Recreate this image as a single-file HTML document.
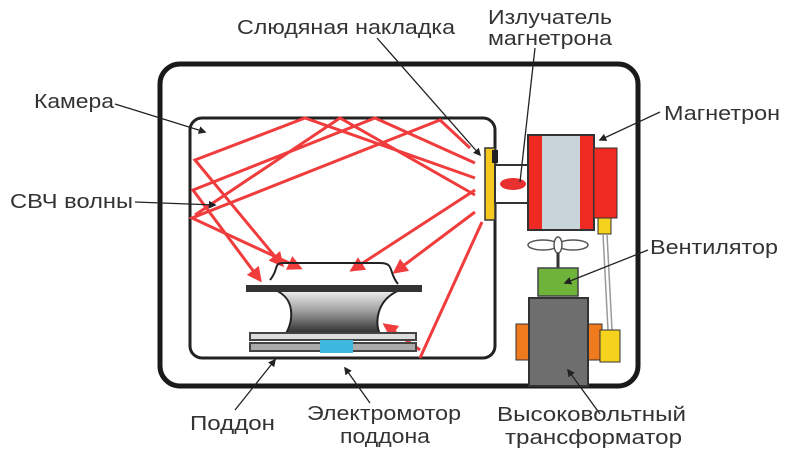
<!DOCTYPE html>
<html><head><meta charset="utf-8"><style>
html,body{margin:0;padding:0;background:#fff;width:800px;height:450px;overflow:hidden}
text{font-family:"Liberation Sans Narrow","Liberation Sans",sans-serif;fill:#333;font-size:20px}
</style></head><body>
<svg width="800" height="450" viewBox="0 0 800 450" xmlns="http://www.w3.org/2000/svg">
<defs>
<linearGradient id="bowl" x1="0" y1="0" x2="0" y2="1">
<stop offset="0" stop-color="#f2f2f2"/><stop offset="0.5" stop-color="#9a9a9a"/><stop offset="1" stop-color="#2a2a2a"/></linearGradient>
<marker id="ra" viewBox="0 0 10 10" refX="8" refY="5" markerWidth="5" markerHeight="5" orient="auto"><path d="M0,0L10,5L0,10z" fill="#f03c3c"/></marker>
<marker id="ka" viewBox="0 0 10 10" refX="8" refY="5" markerWidth="6" markerHeight="6" orient="auto"><path d="M0,0L10,5L0,10z" fill="#222"/></marker>
</defs>
<!-- outer case -->
<rect x="160" y="64" width="478" height="322" rx="20" fill="none" stroke="#1a1a1a" stroke-width="5"/>
<!-- chamber -->
<rect x="190" y="118" width="305" height="240" rx="12" fill="none" stroke="#222" stroke-width="3"/>
<!-- red rays -->
<g stroke="#f03c3c" stroke-width="3" fill="none">
<polyline points="475,178 305,118 195,160 282,265" marker-end="url(#ra)"/>
<polyline points="475,163 375,118 193,190 260,280" marker-end="url(#ra)"/>
<polyline points="470,148 440,120 192,218 300,268" marker-end="url(#ra)"/>
<polyline points="475,195 340,118 195,215"/>
<line x1="475" y1="190" x2="352" y2="270" marker-end="url(#ra)"/>
<line x1="475" y1="212" x2="395" y2="272" marker-end="url(#ra)"/>
<line x1="482" y1="222" x2="420" y2="358"/>
<line x1="420" y1="350" x2="385" y2="325" marker-end="url(#ra)"/>
</g>
<!-- dish -->
<path d="M270,280 C280,268 272,263 285,263 L380,263 C395,263 388,272 398,284" fill="none" stroke="#222" stroke-width="2"/>
<path d="M275,290 C300,300 290,330 285,334 L380,334 C375,325 375,300 400,290 Z" fill="url(#bowl)" stroke="#222" stroke-width="2"/>
<rect x="246" y="285" width="176" height="7" fill="#333"/>
<rect x="250" y="333" width="166" height="7" fill="#ddd" stroke="#444" stroke-width="2"/>
<rect x="250" y="343" width="166" height="8" fill="#aaa" stroke="#444" stroke-width="2"/>
<rect x="320" y="340" width="33" height="13" fill="#3fb8e0"/>
<!-- plate & waveguide -->
<rect x="485" y="148" width="10" height="72" fill="#f4c81e" stroke="#333" stroke-width="1.5"/>
<rect x="492" y="150" width="6" height="13" fill="#222"/>
<rect x="495" y="165" width="35" height="38" fill="#fff" stroke="#333" stroke-width="2"/>
<ellipse cx="513" cy="184" rx="13" ry="6" fill="#e83030"/>
<!-- magnetron -->
<rect x="528" y="135" width="66" height="95" fill="#c9d3da" stroke="#333" stroke-width="2"/>
<rect x="529" y="136" width="13" height="93" fill="#ee2a22"/>
<rect x="580" y="136" width="13" height="93" fill="#ee2a22"/>
<rect x="594" y="148" width="23" height="70" fill="#ee2a22" stroke="#333" stroke-width="1"/>
<rect x="598" y="218" width="13" height="16" fill="#f4d21e" stroke="#333" stroke-width="1"/>
<!-- fan -->
<ellipse cx="543" cy="245" rx="15" ry="5" fill="#fff" stroke="#555" stroke-width="1.5"/>
<ellipse cx="573" cy="245" rx="15" ry="5" fill="#fff" stroke="#555" stroke-width="1.5"/>
<ellipse cx="558" cy="245" rx="4" ry="8" fill="#fff" stroke="#555" stroke-width="1.5"/>
<line x1="558" y1="253" x2="558" y2="268" stroke="#333" stroke-width="3"/>
<rect x="538" y="268" width="40" height="28" fill="#6fb33a" stroke="#444" stroke-width="1.5"/>
<!-- wires -->
<path d="M603,234 L608,330 M607,234 L612,330" stroke="#999" stroke-width="1.5" fill="none"/>
<!-- transformer -->
<rect x="516" y="324" width="14" height="36" fill="#f07a1e" stroke="#333"/>
<rect x="588" y="324" width="14" height="36" fill="#f07a1e" stroke="#333"/>
<rect x="529" y="298" width="59" height="88" fill="#6e6e6e" stroke="#333" stroke-width="2"/>
<rect x="600" y="330" width="20" height="32" fill="#f4d21e" stroke="#333"/>
<!-- leader lines -->
<g stroke="#222" stroke-width="1.3" fill="none">
<line x1="115" y1="104" x2="205" y2="132" marker-end="url(#ka)"/>
<line x1="135" y1="202" x2="215" y2="205" marker-end="url(#ka)"/>
<line x1="377" y1="38" x2="480" y2="155" marker-end="url(#ka)"/>
<line x1="535" y1="48" x2="520" y2="182"/>
<line x1="660" y1="112" x2="600" y2="140" marker-end="url(#ka)"/>
<line x1="648" y1="250" x2="565" y2="283" marker-end="url(#ka)"/>
<line x1="235" y1="410" x2="275" y2="360" marker-end="url(#ka)"/>
<line x1="370" y1="403" x2="345" y2="368" marker-end="url(#ka)"/>
<line x1="600" y1="414" x2="568" y2="370" marker-end="url(#ka)"/>
</g>
<!-- labels -->
<text x="237" y="34" textLength="218" lengthAdjust="spacingAndGlyphs">Слюдяная накладка</text>
<text x="488" y="24" textLength="124" lengthAdjust="spacingAndGlyphs">Излучатель</text>
<text x="488" y="45" textLength="124" lengthAdjust="spacingAndGlyphs">магнетрона</text>
<text x="34" y="108" textLength="80" lengthAdjust="spacingAndGlyphs">Камера</text>
<text x="664" y="120" textLength="116" lengthAdjust="spacingAndGlyphs">Магнетрон</text>
<text x="10" y="208" textLength="123" lengthAdjust="spacingAndGlyphs">СВЧ волны</text>
<text x="650" y="254" textLength="128" lengthAdjust="spacingAndGlyphs">Вентилятор</text>
<text x="190" y="430" textLength="85" lengthAdjust="spacingAndGlyphs">Поддон</text>
<text x="307" y="420" textLength="154" lengthAdjust="spacingAndGlyphs">Электромотор</text>
<text x="340" y="443" textLength="90" lengthAdjust="spacingAndGlyphs">поддона</text>
<text x="497" y="421" textLength="189" lengthAdjust="spacingAndGlyphs">Высоковольтный</text>
<text x="505" y="444" textLength="177" lengthAdjust="spacingAndGlyphs">трансформатор</text>
</svg>
</body></html>
